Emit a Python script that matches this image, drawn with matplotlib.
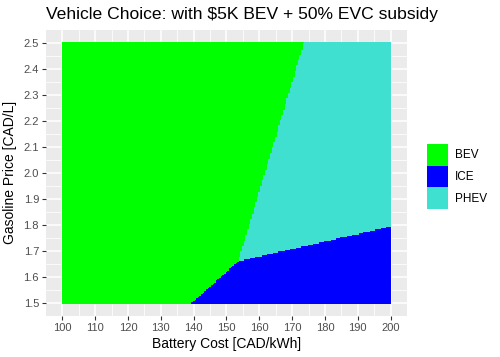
import numpy as np
import matplotlib
matplotlib.use("Agg")
import matplotlib.pyplot as plt
from matplotlib.colors import ListedColormap
from matplotlib.patches import Patch

plt.rcParams['font.family'] = ['Liberation Sans', 'DejaVu Sans']

# Grid of evaluated points
battery_cost = np.arange(200, 401, 1) / 2                # CAD/kWh, step 0.5
gas_price = np.round(np.arange(300, 501, 1) / 200, 3)    # CAD/L, step 0.005

# Decision boundaries
# BEV chosen when battery cost is below this limit (as a function of gas price)
bev_limit_gas = [1.50, 1.66, 2.50]
bev_limit_cost = [139.5, 153.6, 173.6]
# Among non-BEV, ICE chosen when gas price is below this limit (function of battery cost)
ice_limit_cost = [153.6, 200.0]
ice_limit_gas = [1.66, 1.793]

categories = ["BEV", "ICE", "PHEV"]
colors = ["#00FF00", "#0000FF", "#40E0D0"]

B, G = np.meshgrid(battery_cost, gas_price)
bev_lim = np.interp(G, bev_limit_gas, bev_limit_cost)
ice_lim = np.interp(B, ice_limit_cost, ice_limit_gas)
choice = np.where(B < bev_lim, 0, np.where(G < ice_lim, 1, 2))

fig = plt.figure(figsize=(5.0, 3.57), dpi=100)
ax = fig.add_axes([0.092, 0.115, 0.722, 0.802])
ax.set_facecolor("#EBEBEB")

dx = 0.25
dy = 0.0025
xe = np.concatenate([battery_cost - dx, [battery_cost[-1] + dx]])
ye = np.concatenate([gas_price - dy, [gas_price[-1] + dy]])
ax.pcolormesh(xe, ye, choice, cmap=ListedColormap(colors), vmin=-0.5, vmax=2.5,
              shading="flat", zorder=2, edgecolors="none")

ax.set_xlim(94.975, 205.025)
ax.set_ylim(1.44975, 2.55025)
ax.set_xticks(np.arange(100, 201, 10))
ax.set_yticks(np.round(np.arange(15, 26, 1) / 10, 1))
ax.set_xticks(np.arange(105, 200, 10), minor=True)
ax.set_yticks(np.round(np.arange(1.55, 2.5, 0.1), 2), minor=True)
ax.grid(which="major", color="white", linewidth=1.1, zorder=1)
ax.grid(which="minor", color="white", linewidth=0.55, zorder=1)
ax.set_axisbelow(True)
for s in ax.spines.values():
    s.set_visible(False)
ax.tick_params(which="major", length=3, width=0.8, color="#333333",
               labelsize=8, labelcolor="#4D4D4D", pad=2)
ax.tick_params(which="minor", length=0)

ax.set_xlabel("Battery Cost [CAD/kWh]", fontsize=10, labelpad=3)
ax.set_ylabel("Gasoline Price [CAD/L]", fontsize=10, labelpad=5)
ax.set_title("Vehicle Choice: with $5K BEV + 50% EVC subsidy", fontsize=12.6,
             loc="left", pad=8)

handles = [Patch(facecolor=c, edgecolor="none", label=l) for c, l in zip(colors, categories)]
fig.legend(handles=handles, loc="center left", bbox_to_anchor=(0.853, 0.506),
           frameon=False, fontsize=8.5, handlelength=1.84, handleheight=2.45,
           handletextpad=0.55, labelspacing=0.0, borderpad=0, borderaxespad=0)

fig.savefig("out.png", dpi=100)
